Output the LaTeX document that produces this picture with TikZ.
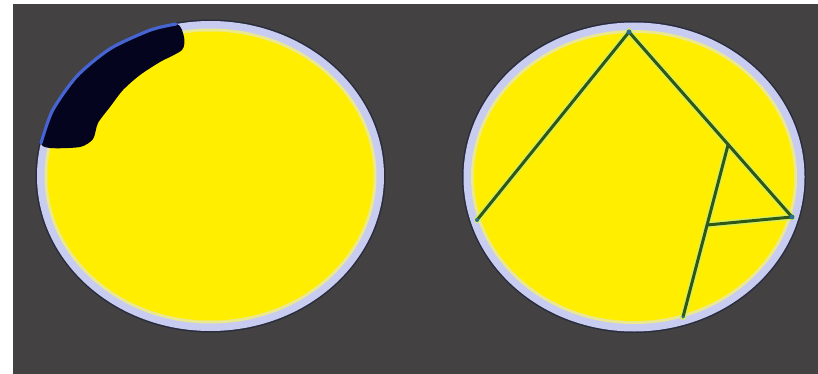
\documentclass[tikz,border=0pt]{standalone}
\definecolor{bggrey}{RGB}{67,65,65}
\definecolor{rimdarkc}{RGB}{40,44,62}
\definecolor{rimlavc}{RGB}{200,204,240}
\definecolor{rimpalec}{RGB}{236,232,140}
\definecolor{yelc}{RGB}{255,238,0}
\definecolor{haloc}{RGB}{215,238,90}
\definecolor{segc}{RGB}{48,88,20}
\definecolor{dotc}{RGB}{40,110,150}
\definecolor{blobc}{RGB}{4,4,30}
\definecolor{blobedge}{RGB}{70,100,210}
\begin{document}
\begin{tikzpicture}[x=1pt,y=-1pt,
  rimdark/.style={fill=rimdarkc},
  rimlav/.style={fill=rimlavc},
  rimpale/.style={fill=rimpalec},
  yel/.style={fill=yelc},
  halo/.style={draw=haloc,line width=6pt,line cap=round},
  seg/.style={draw=segc,line width=3pt,line cap=round},
  dot/.style={fill=dotc}]
\useasboundingbox (0,0) rectangle (818,374);
\fill[white] (0,0) rectangle (818,374);
\fill[bggrey] (13,4) rectangle (818,374);
% left disc
\fill[rimdark] (210.5,176) ellipse [x radius=175,y radius=156.5];
\fill[rimlav] (210.5,176) ellipse [x radius=173.5,y radius=155];
\fill[rimpale] (210.5,176) ellipse [x radius=166,y radius=147.5];
\fill[yel] (210.5,176) ellipse [x radius=163,y radius=144.5];
% right disc
\fill[rimdark] (634,177) ellipse [x radius=172,y radius=156];
\fill[rimlav] (634,177) ellipse [x radius=170.5,y radius=154.5];
\fill[rimpale] (634,177) ellipse [x radius=163,y radius=147];
\fill[yel] (634,177) ellipse [x radius=160,y radius=144];
% black blob
\fill[blobc] plot[smooth cycle,tension=0.45] coordinates {(41,142) (52.7,110.5) (77,76) (110.5,48.8) (150.5,30.3) (177,24) (184,37) (182,50) (160,62) (140,75) (123,90) (110,107) (98,123) (93,139) (80,147) (50,148)};
\draw[blobedge,line width=3.2pt,line cap=round] plot[smooth,tension=0.45] coordinates {(41,143) (52.5,110.5) (77,76) (110.5,48.5) (150.5,30) (176,24)};
% right disc lines
\coordinate (apex) at (629,32);
\coordinate (lft) at (477,220);
\coordinate (rgt) at (792,217);
\coordinate (top2) at (728,145);
\coordinate (jn) at (707,225);
\coordinate (bot) at (683,317);
\draw[halo] (lft) -- (apex) -- (rgt);
\draw[halo] (top2) -- (bot);
\draw[halo] (jn) -- (rgt);
\draw[seg] (lft) -- (apex) -- (rgt);
\draw[seg] (top2) -- (bot);
\draw[seg] (jn) -- (rgt);
\fill[dot] (apex) circle (2.5);
\fill[dot] (lft) circle (2);
\fill[dot] (rgt) circle (2.5);
\fill[dot] (bot) circle (1.5);
\end{tikzpicture}
\end{document}
